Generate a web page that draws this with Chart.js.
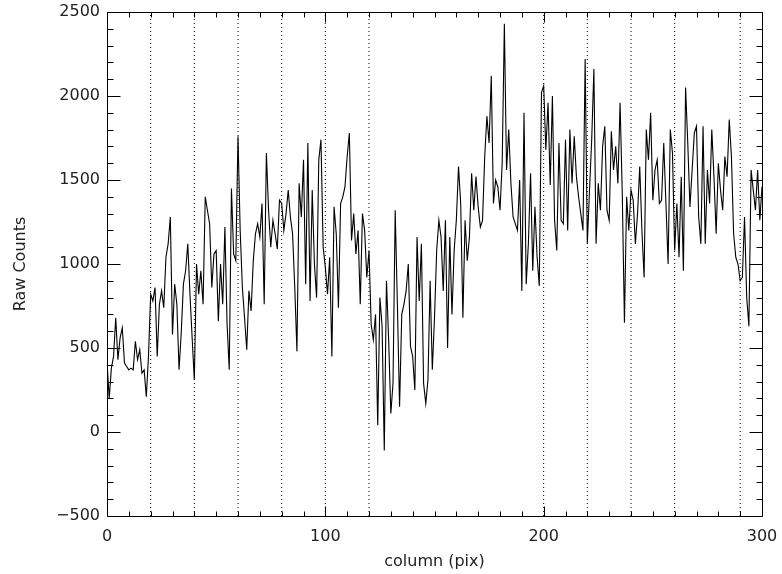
<!DOCTYPE html>
<html>
<head>
<meta charset="utf-8">
<script src="https://cdn.jsdelivr.net/npm/chart.js@4.4.1/dist/chart.umd.min.js"></script>
<style>
  html, body { margin: 0; padding: 0; background: #fff; }
  #wrap { width: 782px; height: 574px; }
</style>
</head>
<body>
<div id="wrap"><canvas id="rawCountsChart" width="782" height="574"></canvas></div>
<script>
// Raw counts along the detector row, one value per column
const rawCounts = [
   420,  200,  380,  450,  680,  430,  560,  620,  410,  390,
   370,  380,  370,  540,  430,  490,  350,  370,  210,  450,
   820,  780,  860,  450,  760,  840,  740, 1040, 1120, 1280,
   580,  880,  760,  370,  590,  880,  960, 1120,  820,  560,
   310, 1000,  820,  960,  760, 1400, 1320, 1240,  860, 1060,
  1080,  660, 1000,  760, 1220,  640,  370, 1450, 1060, 1020,
  1760, 1200,  860,  680,  490,  840,  720, 1020, 1180, 1240,
  1160, 1360,  760, 1660, 1320, 1100, 1260, 1180, 1090, 1380,
  1360, 1200, 1300, 1440, 1280, 1180,  860,  480, 1480, 1280,
  1620,  880, 1720,  780, 1440, 1000,  800, 1620, 1740, 1100,
   980,  820, 1040,  450, 1340, 1180,  740, 1360, 1400, 1460,
  1640, 1780, 1140, 1300, 1060, 1200,  760, 1300, 1200,  920,
  1080,  640,  550,  700,   40,  800,  630, -110,  900,  550,
   110,  290, 1320,  760,  150,  700,  760,  840, 1000,  510,
   450,  250, 1160,  780, 1120,  290,  170,  310,  900,  370,
   680, 1080, 1260, 1160,  840, 1260,  500, 1160,  700, 1080,
  1260, 1580, 1360,  680, 1260, 1020, 1160, 1540, 1320, 1520,
  1340, 1220, 1260, 1640, 1880, 1720, 2120, 1360, 1500, 1460,
  1320, 1600, 2430, 1560, 1800, 1480, 1280, 1240, 1200, 1500,
   840, 1900,  880, 1120, 1540,  960, 1340, 1040,  870, 2020,
  2060, 1680, 1960, 1470, 2000, 1260, 1080, 1720, 1260, 1240,
  1740, 1200, 1800, 1480, 1760, 1520, 1400, 1300, 1200, 2220,
  1120, 1440, 1740, 2160, 1120, 1480, 1320, 1700, 1820, 1320,
  1260, 1790, 1560, 1700, 1480, 1960, 1420,  650, 1400, 1200,
  1440, 1380, 1120, 1300, 1580, 1200,  920, 1800, 1620, 1900,
  1380, 1560, 1620, 1360, 1380, 1720, 1360, 1000, 1800, 1660,
  1080, 1360, 1040, 1520,  960, 2050, 1720, 1340, 1560, 1780,
  1820, 1280, 1120, 1820, 1120, 1560, 1360, 1800, 1520, 1180,
  1600, 1440, 1320, 1640, 1520, 1860, 1640, 1180, 1040, 1000,
   900,  920, 1280,  800,  630, 1560, 1440, 1320, 1560, 1260,
  1460
];
const columns = rawCounts.map((_, i) => i);

// columns marked with dotted vertical lines
const markerColumns = [20, 40, 60, 80, 100, 120, 200, 220, 240, 260, 290];

const xRange = [0, 300];
const yRange = [-500, 2500];
const xTickStep = 100;
const yTickStep = 500;

Chart.defaults.font.family = '"DejaVu Sans", sans-serif';
Chart.defaults.font.size = 16;
Chart.defaults.color = '#222';

// IDL style frame: box on all four sides, ticks pointing inward
const frameTicks = {
    id: 'frameTicks',
    afterDatasetsDraw(chart) {
        const { ctx, chartArea: a, scales: { x, y } } = chart;
        const L = Math.round(a.left) + 0.5, R = Math.round(a.right) + 0.5;
        const T = Math.round(a.top) + 0.5, B = Math.round(a.bottom) + 0.5;
        ctx.save();
        ctx.strokeStyle = '#000';
        ctx.lineWidth = 1;
        ctx.beginPath();
        ctx.rect(L, T, R - L, B - T);
        for (let v = xRange[0]; v <= xRange[1]; v += 10) {
            const px = Math.round(x.getPixelForValue(v)) + 0.5;
            const len = v % xTickStep === 0 ? 10 : 5;
            ctx.moveTo(px, B); ctx.lineTo(px, B - len);
            ctx.moveTo(px, T); ctx.lineTo(px, T + len);
        }
        for (let v = yRange[0]; v <= yRange[1]; v += 100) {
            const py = Math.round(y.getPixelForValue(v)) + 0.5;
            const len = v % yTickStep === 0 ? 13 : 6;
            ctx.moveTo(L, py); ctx.lineTo(L + len, py);
            ctx.moveTo(R, py); ctx.lineTo(R - len, py);
        }
        ctx.stroke();
        ctx.restore();
    }
};

const countsLine = {
    data: columns.map((c, i) => ({ x: c, y: rawCounts[i] })),
    borderColor: '#000',
    borderWidth: 1.1,
    pointRadius: 0,
    tension: 0
};

const markerLines = markerColumns.map(c => ({
    data: [{ x: c, y: yRange[0] }, { x: c, y: yRange[1] }],
    borderColor: '#000',
    borderWidth: 1,
    borderDash: [1, 3],
    pointRadius: 0
}));

const fmt = v => String(v).replace('-', '\u2212');

new Chart(document.getElementById('rawCountsChart'), {
    type: 'line',
    data: { datasets: [countsLine, ...markerLines] },
    options: {
        responsive: false,
        animation: false,
        layout: { padding: { left: 0, right: 20, top: 12, bottom: 0 } },
        plugins: { legend: { display: false }, tooltip: { enabled: false } },
        scales: {
            x: {
                type: 'linear',
                min: xRange[0],
                max: xRange[1],
                grid: { display: false, drawTicks: false },
                border: { display: false },
                ticks: { stepSize: xTickStep, padding: 11, maxRotation: 0, callback: fmt },
                title: { display: true, text: 'column (pix)', padding: { top: 0, bottom: 3 } },
                afterFit(s) { s.height = 58; s.paddingLeft = 0; s.paddingRight = 0; }
            },
            y: {
                type: 'linear',
                min: yRange[0],
                max: yRange[1],
                grid: { display: false, drawTicks: false },
                border: { display: false },
                ticks: { stepSize: yTickStep, padding: 7, callback: fmt },
                title: { display: true, text: 'Raw Counts', padding: { top: 11, bottom: 0 } },
                afterFit(s) { s.width = 107; s.paddingTop = 0; s.paddingBottom = 0; }
            }
        }
    },
    plugins: [frameTicks]
});
</script>
</body>
</html>
